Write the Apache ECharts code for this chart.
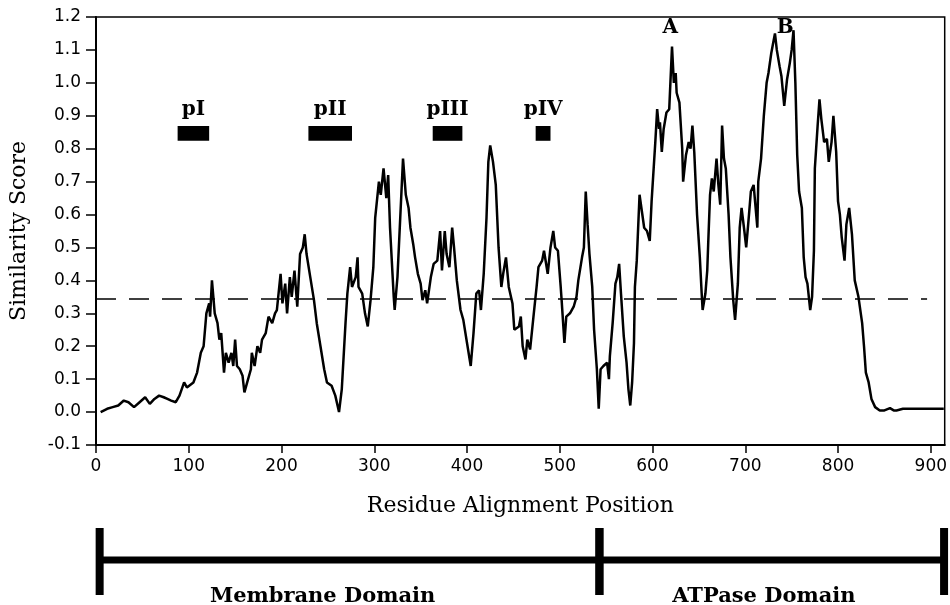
<!DOCTYPE html>
<html>
<head>
<meta charset="utf-8">
<title>Similarity Score profile</title>
<script src="https://cdn.jsdelivr.net/npm/echarts@6/dist/echarts.min.js"></script>
<style>
  html, body { margin: 0; padding: 0; background: #fff; }
  #chart { width: 950px; height: 605px; }
</style>
</head>
<body>
<div id="chart"></div>
<script>
// residue position / similarity score
const positions = [
  5, 7, 12, 18, 24, 30, 35, 41, 47, 53, 58, 63, 68, 73, 77, 81, 86, 90, 95, 98,
  100, 105, 109, 113, 116, 119, 122, 123, 125, 128, 131, 133, 135, 138, 140, 143, 146, 148, 150, 152,
  155, 158, 160, 163, 167, 168, 171, 174, 177, 179, 183, 186, 190, 193, 195, 199, 201, 204, 206, 209,
  211, 214, 217, 220, 223, 225, 227, 231, 235, 238, 242, 246, 249, 254, 258, 262, 265, 269, 271, 274,
  276, 280, 282, 283, 287, 290, 293, 296, 299, 301, 305, 307, 310, 313, 315, 317, 321, 322, 325, 328,
  331, 334, 337, 339, 342, 344, 347, 350, 352, 355, 357, 361, 364, 368, 371, 373, 376, 378, 381, 384,
  386, 389, 393, 396, 400, 404, 407, 410, 413, 415, 418, 421, 423, 425, 428, 431, 434, 437, 439, 442,
  445, 449, 451, 456, 458, 460, 463, 465, 468, 472, 475, 477, 481, 483, 487, 490, 493, 495, 498, 501,
  502, 505, 507, 511, 515, 518, 520, 524, 526, 528, 530, 532, 535, 537, 540, 542, 544, 547, 551, 553,
  554, 557, 560, 562, 564, 566, 569, 572, 574, 576, 578, 580, 581, 583, 586, 589, 591, 594, 597, 599,
  603, 605, 607, 608, 610, 612, 615, 618, 621, 623, 625, 626, 629, 632, 633, 636, 639, 641, 643, 645,
  648, 651, 653, 654, 657, 659, 660, 662, 664, 666, 669, 671, 673, 675, 677, 679, 682, 684, 687, 689,
  692, 694, 696, 699, 701, 704, 706, 709, 713, 714, 717, 720, 723, 725, 728, 730, 732, 734, 737, 739,
  742, 745, 748, 750, 752, 754, 756, 758, 761, 763, 765, 767, 770, 772, 774, 775, 778, 780, 782, 785,
  788, 790, 793, 795, 798, 800, 802, 804, 807, 809, 812, 815, 818, 822, 826, 828, 830, 833, 836, 840,
  845, 850, 856, 860, 863, 870, 880, 900, 914
];
const scores = [
  0.00, 0.00, 0.01, 0.015, 0.02, 0.035, 0.03, 0.015, 0.03, 0.045, 0.025, 0.04, 0.05, 0.045, 0.04, 0.035, 0.03, 0.05, 0.09, 0.075,
  0.08, 0.09, 0.12, 0.18, 0.20, 0.30, 0.33, 0.29, 0.40, 0.30, 0.27, 0.22, 0.24, 0.12, 0.18, 0.15, 0.18, 0.14, 0.22, 0.14,
  0.13, 0.11, 0.06, 0.09, 0.13, 0.18, 0.14, 0.20, 0.18, 0.22, 0.24, 0.29, 0.27, 0.30, 0.31, 0.42, 0.33, 0.39, 0.30, 0.41,
  0.35, 0.43, 0.32, 0.48, 0.50, 0.54, 0.48, 0.41, 0.34, 0.27, 0.20, 0.13, 0.09, 0.08, 0.05, 0.00, 0.07, 0.27, 0.36, 0.44,
  0.38, 0.41, 0.47, 0.38, 0.36, 0.30, 0.26, 0.34, 0.44, 0.59, 0.70, 0.66, 0.74, 0.65, 0.72, 0.56, 0.35, 0.31, 0.41, 0.59,
  0.77, 0.66, 0.62, 0.56, 0.51, 0.47, 0.42, 0.39, 0.34, 0.37, 0.33, 0.41, 0.45, 0.46, 0.55, 0.43, 0.55, 0.48, 0.44, 0.56,
  0.50, 0.40, 0.31, 0.28, 0.21, 0.14, 0.24, 0.36, 0.37, 0.31, 0.42, 0.59, 0.76, 0.81, 0.76, 0.69, 0.50, 0.38, 0.42, 0.47,
  0.38, 0.33, 0.25, 0.26, 0.29, 0.20, 0.16, 0.22, 0.19, 0.30, 0.38, 0.44, 0.46, 0.49, 0.42, 0.50, 0.55, 0.50, 0.49, 0.38,
  0.34, 0.21, 0.29, 0.30, 0.32, 0.35, 0.40, 0.47, 0.50, 0.67, 0.57, 0.48, 0.38, 0.25, 0.13, 0.01, 0.13, 0.14, 0.15, 0.10,
  0.17, 0.27, 0.39, 0.41, 0.45, 0.36, 0.23, 0.15, 0.07, 0.02, 0.09, 0.21, 0.38, 0.46, 0.66, 0.60, 0.56, 0.55, 0.52, 0.64,
  0.82, 0.92, 0.86, 0.88, 0.79, 0.86, 0.91, 0.92, 1.11, 1.00, 1.03, 0.97, 0.94, 0.80, 0.70, 0.78, 0.82, 0.80, 0.87, 0.79,
  0.60, 0.47, 0.36, 0.31, 0.36, 0.43, 0.51, 0.66, 0.71, 0.67, 0.77, 0.69, 0.63, 0.87, 0.77, 0.74, 0.60, 0.47, 0.34, 0.28,
  0.39, 0.56, 0.62, 0.55, 0.50, 0.60, 0.67, 0.69, 0.56, 0.70, 0.77, 0.90, 1.00, 1.03, 1.09, 1.12, 1.15, 1.10, 1.05, 1.02,
  0.93, 1.01, 1.06, 1.10, 1.16, 1.00, 0.78, 0.67, 0.62, 0.47, 0.41, 0.39, 0.31, 0.35, 0.49, 0.74, 0.87, 0.95, 0.89, 0.82,
  0.83, 0.76, 0.82, 0.90, 0.79, 0.64, 0.60, 0.53, 0.46, 0.57, 0.62, 0.54, 0.40, 0.35, 0.27, 0.20, 0.12, 0.09, 0.04, 0.015,
  0.005, 0.005, 0.012, 0.005, 0.005, 0.01, 0.01, 0.01, 0.01
];

const threshold = 0.345;
const thresholdEnd = 896;

const xTicks = [0, 100, 200, 300, 400, 500, 600, 700, 800, 900];

// conserved motifs (bars) and their names
const motifNames = ["pI", "pII", "pIII", "pIV"];
const motifStart = [88, 229, 363, 474];
const motifEnd = [122, 276, 395, 490];
const motifBarLow = 0.824;
const motifBarHigh = 0.869;
const motifLabelY = 0.917;

// peak labels
const peakNames = ["A", "B"];
const peakX = [619, 743];
const peakY = [1.167, 1.167];

// domains under the axis
const domainNames = ["Membrane Domain", "ATPase Domain"];
const domainBounds = [5, 543, 914];
const domainLabelX = [245, 720];

const serif = "DejaVu Serif";
const sans = "DejaVu Sans";

const chart = echarts.init(document.getElementById("chart"));

const profileData = positions.map((p, i) => [p, scores[i]]);
const motifData = motifNames.map((n, i) => [motifStart[i], motifEnd[i]]);
const peakData = peakNames.map((n, i) => [peakX[i], peakY[i]]);
const domainData = domainNames.map((n, i) => [domainBounds[i], domainBounds[i + 1], domainLabelX[i]]);

const boldSerif = (size) => "bold " + size + "px '" + serif + "'";

const option = {
  animation: false,
  backgroundColor: "#fff",
  grid: [
    { left: 95, right: 5, top: 17, bottom: 160, show: true, borderColor: "#000", borderWidth: 1.5 },
    { left: 95, right: 5, top: 505, height: 100 }
  ],
  xAxis: [
    {
      type: "value",
      gridIndex: 0,
      min: 0,
      max: 915,
      splitLine: { show: false },
      axisLine: { onZero: false, lineStyle: { color: "#000", width: 2 } },
      axisTick: { length: 8, lineStyle: { color: "#000", width: 1.5 }, customValues: xTicks },
      axisLabel: { customValues: xTicks, color: "#000", fontFamily: sans, fontSize: 17, margin: 13 },
      name: "Residue Alignment Position",
      nameLocation: "middle",
      nameGap: 50,
      nameTextStyle: { color: "#000", fontFamily: serif, fontSize: 22 }
    },
    { type: "value", gridIndex: 1, min: 0, max: 915, show: false }
  ],
  yAxis: [
    {
      type: "value",
      gridIndex: 0,
      min: -0.1,
      max: 1.2,
      interval: 0.1,
      splitLine: { show: false },
      axisLine: { onZero: false, lineStyle: { color: "#000", width: 2 } },
      axisTick: { length: 10, lineStyle: { color: "#000", width: 1.5 } },
      axisLabel: {
        color: "#000", fontFamily: sans, fontSize: 17, margin: 15,
        formatter: (v) => (Math.abs(v) < 1e-9 ? "0.0" : v.toFixed(1))
      },
      name: "Similarity Score",
      nameLocation: "middle",
      nameGap: 66,
      nameTextStyle: { color: "#000", fontFamily: serif, fontSize: 22 }
    },
    { type: "value", gridIndex: 1, min: 0, max: 100, show: false }
  ],
  series: [
    {
      name: "similarity",
      type: "line",
      xAxisIndex: 0,
      yAxisIndex: 0,
      data: profileData,
      showSymbol: false,
      lineStyle: { color: "#000", width: 2.5 },
      markLine: {
        silent: true,
        symbol: "none",
        label: { show: false },
        lineStyle: { color: "#000", width: 1.5, type: [20, 13] },
        data: [[{ coord: [0, threshold] }, { coord: [thresholdEnd, threshold] }]]
      }
    },
    {
      name: "motifs",
      type: "custom",
      xAxisIndex: 0,
      yAxisIndex: 0,
      data: motifData,
      renderItem: (params, api) => {
        const s = api.value(0);
        const e = api.value(1);
        const p1 = api.coord([s, motifBarHigh]);
        const p2 = api.coord([e, motifBarLow]);
        const lbl = api.coord([(s + e) / 2, motifLabelY]);
        return {
          type: "group",
          children: [
            { type: "rect", shape: { x: p1[0], y: p1[1], width: p2[0] - p1[0], height: p2[1] - p1[1] }, style: { fill: "#000" } },
            {
              type: "text",
              x: lbl[0], y: lbl[1],
              style: {
                text: motifNames[params.dataIndex], fill: "#000",
                font: boldSerif(20), align: "center", verticalAlign: "middle"
              }
            }
          ]
        };
      }
    },
    {
      name: "peaks",
      type: "custom",
      xAxisIndex: 0,
      yAxisIndex: 0,
      data: peakData,
      renderItem: (params, api) => {
        const p = api.coord([api.value(0), api.value(1)]);
        return {
          type: "text",
          x: p[0], y: p[1],
          style: {
            text: peakNames[params.dataIndex], fill: "#000",
            font: boldSerif(20), align: "center", verticalAlign: "middle"
          }
        };
      }
    },
    {
      name: "domains",
      type: "custom",
      xAxisIndex: 1,
      yAxisIndex: 1,
      data: domainData,
      renderItem: (params, api) => {
        const s = api.value(0);
        const e = api.value(1);
        const a = api.coord([s, 45]);
        const b = api.coord([e, 45]);
        const sTop = api.coord([s, 77]);
        const sBot = api.coord([s, 10]);
        const eTop = api.coord([e, 77]);
        const eBot = api.coord([e, 10]);
        const lbl = api.coord([api.value(2), 8]);
        return {
          type: "group",
          children: [
            { type: "line", shape: { x1: a[0], y1: a[1], x2: b[0], y2: b[1] }, style: { stroke: "#000", lineWidth: 7 } },
            { type: "line", shape: { x1: sTop[0], y1: sTop[1], x2: sBot[0], y2: sBot[1] }, style: { stroke: "#000", lineWidth: 8 } },
            { type: "line", shape: { x1: eTop[0], y1: eTop[1], x2: eBot[0], y2: eBot[1] }, style: { stroke: "#000", lineWidth: 8 } },
            {
              type: "text",
              x: lbl[0], y: lbl[1],
              style: {
                text: domainNames[params.dataIndex], fill: "#000",
                font: boldSerif(21), align: "center", verticalAlign: "middle"
              }
            }
          ]
        };
      }
    }
  ]
};

chart.setOption(option);
window.addEventListener("resize", () => chart.resize());
</script>
</body>
</html>
